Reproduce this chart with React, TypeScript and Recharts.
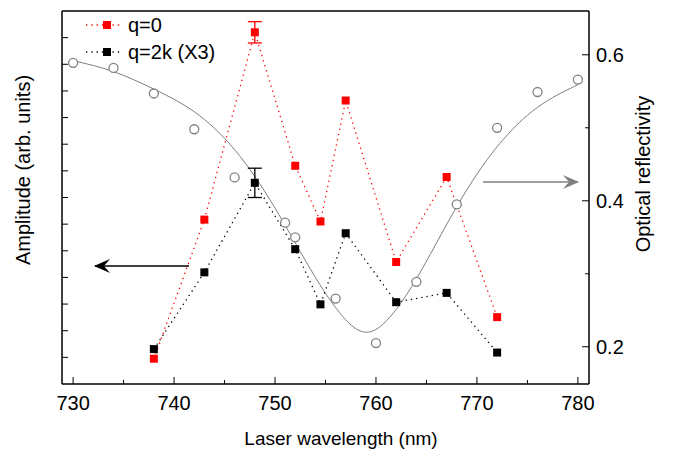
import React from 'react';
import { ComposedChart, Line, XAxis, YAxis, ErrorBar } from 'recharts';

const ampWavelengths = [738, 743, 748, 752, 754.5, 757, 762, 767, 772];
const q0Values = [0.95, 6.17, 13.2, 8.19, 6.1, 10.64, 4.58, 7.77, 2.51];
const q0Errors = [0, 0, 0.4, 0, 0, 0, 0, 0, 0];
const q2kValues = [1.31, 4.19, 7.55, 5.06, 2.99, 5.66, 3.07, 3.42, 1.18];
const q2kErrors = [0, 0, 0.55, 0, 0, 0, 0, 0, 0];

const reflWavelengths = [730, 734, 738, 742, 746, 751, 752, 756, 760, 764, 768, 772, 776, 780];
const reflValues = [0.589, 0.582, 0.547, 0.498, 0.432, 0.37, 0.35, 0.266, 0.205, 0.289, 0.395, 0.5, 0.549, 0.566];

const fitWavelengths = [730, 734, 738, 742, 746, 750, 754, 757, 759, 761, 764, 768, 772, 776, 780];
const fitValues = [0.592, 0.577, 0.553, 0.522, 0.47, 0.39, 0.295, 0.237, 0.22, 0.235, 0.293, 0.392, 0.474, 0.528, 0.559];

const xTicks = [730, 735, 740, 745, 750, 755, 760, 765, 770, 775, 780];
const leftTicks = [1, 2, 3, 4, 5, 6, 7, 8, 9, 10, 11, 12, 13];
const rightTicks = [0.2, 0.3, 0.4, 0.5, 0.6];

const q0Data = ampWavelengths.map((x, i) => ({ x, y: q0Values[i], err: q0Errors[i] }));
const q2kData = ampWavelengths.map((x, i) => ({ x, y: q2kValues[i], err: q2kErrors[i] }));
const reflData = reflWavelengths.map((x, i) => ({ x, r: reflValues[i] }));
const fitData = fitWavelengths.map((x, i) => ({ x, r: fitValues[i] }));

const FONT = 'Liberation Sans, Arial, sans-serif';

const Square = (color: string) => (props: any) => {
  const { cx, cy } = props;
  if (cx == null || cy == null) return null;
  return <rect x={cx - 4} y={cy - 4} width={8} height={8} fill={color} />;
};

const BottomTick = ({ x, payload }: any) => {
  const major = payload.value % 10 === 0;
  const y = 384;
  return (
    <g>
      <line x1={x} x2={x} y1={y} y2={y - (major ? 7 : 4)} stroke="#000" />
      {major && (
        <text x={x} y={y + 26} textAnchor="middle" fontSize={20} fontFamily={FONT} fill="#000">
          {payload.value}
        </text>
      )}
    </g>
  );
};

const TopTick = ({ x, payload }: any) => {
  const major = payload.value % 10 === 0;
  return <line x1={x} x2={x} y1={11} y2={11 + (major ? 7 : 4)} stroke="#000" />;
};

const LeftTick = ({ y }: any) => <line x1={62} x2={68} y1={y} y2={y} stroke="#000" />;

const RightTick = ({ y, payload }: any) => {
  const major = Math.round(payload.value * 10) % 2 === 0;
  const x = 589;
  return (
    <g>
      <line x1={x} x2={x - (major ? 7 : 4)} y1={y} y2={y} stroke="#000" />
      {major && (
        <text x={x + 7} y={y + 7} textAnchor="start" fontSize={20} fontFamily={FONT} fill="#000">
          {payload.value.toFixed(1)}
        </text>
      )}
    </g>
  );
};

export default function App() {
  return (
    <div style={{ position: 'absolute', left: 0, top: 0, width: 673, height: 449, background: '#fff', fontFamily: FONT }}>
      <ComposedChart width={673} height={449} margin={{ top: 10, left: 52, right: 74, bottom: 35 }}>
        <XAxis xAxisId="b" dataKey="x" type="number" domain={[728.9, 781.1]} ticks={xTicks}
          tick={<BottomTick />} tickLine={false} height={30}
          axisLine={{ stroke: '#000', strokeWidth: 1.5 }} />
        <XAxis xAxisId="t" orientation="top" dataKey="x" type="number" domain={[728.9, 781.1]} ticks={xTicks}
          tick={<TopTick />} tickLine={false} height={1}
          axisLine={{ stroke: '#000', strokeWidth: 1.5 }} />
        <YAxis yAxisId="l" type="number" domain={[0, 14]} ticks={leftTicks} tick={<LeftTick />}
          tickLine={false} width={10}
          axisLine={{ stroke: '#000', strokeWidth: 1.5 }} />
        <YAxis yAxisId="r" orientation="right" type="number" domain={[0.149, 0.66]} ticks={rightTicks} tick={<RightTick />}
          tickLine={false} width={10}
          axisLine={{ stroke: '#000', strokeWidth: 1.5 }} />

        <Line xAxisId="b" yAxisId="r" data={fitData} dataKey="r" type="natural" stroke="#7f7f7f" strokeWidth={1}
          dot={false} activeDot={false} isAnimationActive={false} />
        <Line xAxisId="b" yAxisId="r" data={reflData} dataKey="r" stroke="none"
          dot={{ r: 4.5, stroke: '#808080', strokeWidth: 1.3, fill: '#fff' }} activeDot={false} isAnimationActive={false} />
        <Line xAxisId="b" yAxisId="l" data={q2kData} dataKey="y" type="linear" stroke="#000" strokeWidth={1.3}
          strokeDasharray="1.3 4" dot={Square('#000')} activeDot={false} isAnimationActive={false}>
          <ErrorBar dataKey="err" direction="y" width={7} stroke="#000" strokeWidth={1.3} />
        </Line>
        <Line xAxisId="b" yAxisId="l" data={q0Data} dataKey="y" type="linear" stroke="#f00" strokeWidth={1.3}
          strokeDasharray="1.3 4" dot={Square('#f00')} activeDot={false} isAnimationActive={false}>
          <ErrorBar dataKey="err" direction="y" width={7} stroke="#f00" strokeWidth={1.3} />
        </Line>
      </ComposedChart>

      <svg width={673} height={449} style={{ position: 'absolute', left: 0, top: 0, pointerEvents: 'none' }}>
        <defs>
          <marker id="ab" markerWidth="16" markerHeight="14" refX="15" refY="7" orient="auto" markerUnits="userSpaceOnUse">
            <path d="M0,0 L16,7 L0,14 L6,7 Z" fill="#000" />
          </marker>
          <marker id="ag" markerWidth="16" markerHeight="14" refX="15" refY="7" orient="auto" markerUnits="userSpaceOnUse">
            <path d="M0,0 L16,7 L0,14 L6,7 Z" fill="#808080" />
          </marker>
        </defs>
        <line x1={189} y1={266} x2={95} y2={266} stroke="#000" strokeWidth={1.3} markerEnd="url(#ab)" />
        <line x1={483} y1={182} x2={578} y2={182} stroke="#808080" strokeWidth={1.3} markerEnd="url(#ag)" />
        <g fontFamily={FONT} fontSize={20}>
          <line x1={86} x2={122} y1={25} y2={25} stroke="#f00" strokeWidth={1.3} strokeDasharray="1.3 4" />
          <rect x={103} y={21} width={8} height={8} fill="#f00" />
          <text x={128} y={32}>q=0</text>
          <line x1={86} x2={122} y1={52} y2={52} stroke="#000" strokeWidth={1.3} strokeDasharray="1.3 4" />
          <rect x={103} y={48} width={8} height={8} fill="#000" />
          <text x={128} y={59}>q=2k (X3)</text>
          <text x={341} y={445} textAnchor="middle" fontSize={19}>Laser wavelength (nm)</text>
          <text transform="translate(30,170) rotate(-90)" textAnchor="middle">Amplitude (arb. units)</text>
          <text transform="translate(650,174) rotate(-90)" textAnchor="middle">Optical reflectivity</text>
        </g>
      </svg>
    </div>
  );
}
